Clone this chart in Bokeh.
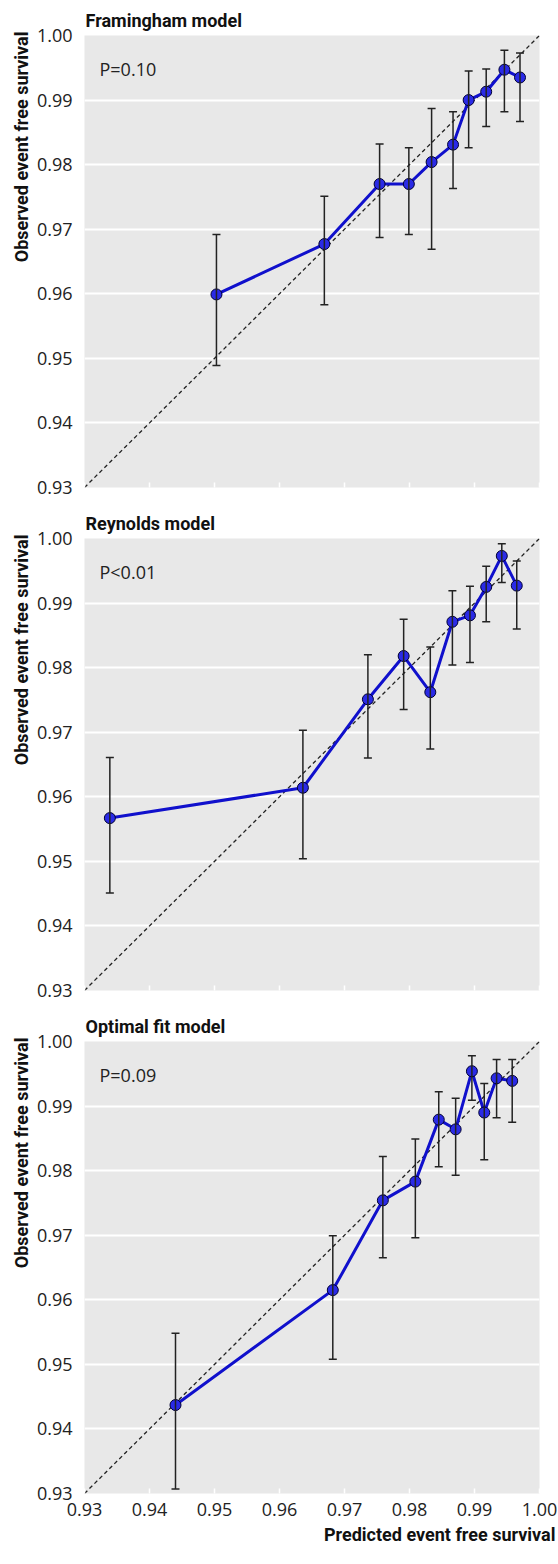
from bokeh.plotting import figure
from bokeh.layouts import column
from bokeh.models import (ColumnDataSource, Whisker, TeeHead, FixedTicker, Label, Title,
                          Range1d, PrintfTickFormatter)
from bokeh.embed import file_html
from bokeh.resources import INLINE

# ---------------- data ----------------
titles = ["Framingham model", "Reynolds model", "Optimal fit model"]
p_texts = ["P=0.10", "P<0.01", "P=0.09"]
ticks = [0.93, 0.94, 0.95, 0.96, 0.97, 0.98, 0.99, 1.00]
x_title = "Predicted event free survival"
y_title = "Observed event free survival"

fram_pred = [0.9503, 0.9669, 0.9754, 0.9799, 0.9834, 0.9867, 0.9891, 0.9918, 0.9946, 0.9970]
fram_obs = [0.9599, 0.9677, 0.9770, 0.9770, 0.9804, 0.9831, 0.9900, 0.9913, 0.9947, 0.9935]
fram_lo = [0.9489, 0.9583, 0.9687, 0.9692, 0.9669, 0.9763, 0.9826, 0.9859, 0.9882, 0.9867]
fram_hi = [0.9692, 0.9751, 0.9832, 0.9826, 0.9887, 0.9882, 0.9945, 0.9948, 0.9977, 0.9973]

reyn_pred = [0.9339, 0.9636, 0.9736, 0.9791, 0.9832, 0.9866, 0.9893, 0.9918, 0.9942, 0.9965]
reyn_obs = [0.9567, 0.9614, 0.9751, 0.9818, 0.9762, 0.9871, 0.9881, 0.9925, 0.9973, 0.9927]
reyn_lo = [0.9451, 0.9504, 0.9660, 0.9735, 0.9674, 0.9804, 0.9808, 0.9871, 0.9932, 0.9860]
reyn_hi = [0.9661, 0.9703, 0.9820, 0.9875, 0.9832, 0.9919, 0.9926, 0.9957, 0.9992, 0.9965]

opt_pred = [0.9440, 0.9682, 0.9759, 0.9809, 0.9845, 0.9871, 0.9896, 0.9915, 0.9934, 0.9958]
opt_obs = [0.9437, 0.9615, 0.9754, 0.9783, 0.9879, 0.9864, 0.9954, 0.9890, 0.9943, 0.9939]
opt_lo = [0.9307, 0.9508, 0.9665, 0.9696, 0.9806, 0.9793, 0.9909, 0.9817, 0.9882, 0.9875]
opt_hi = [0.9548, 0.9699, 0.9822, 0.9849, 0.9922, 0.9912, 0.9978, 0.9935, 0.9972, 0.9972]

series = [
    (fram_pred, fram_obs, fram_lo, fram_hi),
    (reyn_pred, reyn_obs, reyn_lo, reyn_hi),
    (opt_pred, opt_obs, opt_lo, opt_hi),
]

# ---------------- style ----------------
FONT = "Open Sans"
BOLD = "Roboto"
BG = "#e8e8e8"
BLUE = "#1010cc"
FRAME_W, FRAME_H = 455, 452
LEFT, RIGHT, TOP = 84, 19, 35


def make_panel(i, pred, obs, lo, hi, last):
    bottom = 71 if last else 16
    H = TOP + FRAME_H + bottom
    p = figure(width=LEFT + FRAME_W + RIGHT, height=H,
               x_range=Range1d(ticks[0], ticks[-1]), y_range=Range1d(ticks[0], ticks[-1]),
               output_backend="svg", toolbar_location=None,
               min_border_left=LEFT, min_border_right=RIGHT,
               min_border_top=TOP, min_border_bottom=bottom,
               background_fill_color=BG, border_fill_color="white",
               outline_line_color=None)

    # panel title
    p.title.text = titles[i]
    p.title.text_font = BOLD
    p.title.text_font_style = "bold"
    p.title.text_font_size = "18px"
    p.title.text_color = "#111111"
    p.title.align = "left"
    p.title.offset = 1
    p.title.standoff = 10

    # grid
    p.xgrid.grid_line_color = None
    p.ygrid.ticker = FixedTicker(ticks=ticks)
    p.ygrid.grid_line_color = "white"
    p.ygrid.grid_line_width = 2

    # y axis
    ya = p.yaxis[0]
    ya.ticker = FixedTicker(ticks=ticks)
    ya.formatter = PrintfTickFormatter(format="%.2f")
    ya.axis_line_color = None
    ya.major_tick_line_color = None
    ya.minor_tick_line_color = None
    ya.major_label_standoff = 6
    ya.major_label_text_font = FONT
    ya.major_label_text_font_size = "18px"
    ya.major_label_text_color = "#222222"

    # y title (left, aligned to top end)
    p.add_layout(Title(text=y_title, align="right", offset=-4, standoff=4,
                       text_font=BOLD, text_font_style="bold", text_font_size="18px",
                       text_color="#111111"), "left")

    # x axis
    xa = p.xaxis[0]
    xa.ticker = FixedTicker(ticks=ticks)
    xa.formatter = PrintfTickFormatter(format="%.2f")
    xa.axis_line_color = None
    xa.minor_tick_line_color = None
    xa.major_tick_in = 5
    xa.major_tick_out = 0
    xa.major_tick_line_color = "white"
    xa.major_tick_line_width = 1.5
    if last:
        xa.major_label_standoff = 9
        xa.major_label_text_font = FONT
        xa.major_label_text_font_size = "18px"
        xa.major_label_text_color = "#222222"
        p.add_layout(Title(text=x_title, align="right", offset=-16, standoff=6,
                           text_font=BOLD, text_font_style="bold", text_font_size="18px",
                           text_color="#111111"), "below")
    else:
        xa.major_label_text_font_size = "1px"
        xa.major_label_text_color = None
        xa.major_label_standoff = 0

    # identity line
    p.line(x=[ticks[0], ticks[-1]], y=[ticks[0], ticks[-1]], line_color="#222222",
           line_width=1.3, line_dash="4 3")

    src = ColumnDataSource(dict(x=pred, y=obs, lo=lo, hi=hi))
    w = Whisker(source=src, base="x", lower="lo", upper="hi", dimension="height",
                line_color="#222222", line_width=1.5,
                upper_head=TeeHead(size=8, line_color="#222222", line_width=1.5),
                lower_head=TeeHead(size=8, line_color="#222222", line_width=1.5))
    w.level = "glyph"
    p.add_layout(w)

    p.line(x="x", y="y", source=src, line_color=BLUE, line_width=3)
    p.scatter(x="x", y="y", source=src, size=11, marker="circle",
              fill_color="#2a2ae6", line_color="#000033", line_width=1)

    p.add_layout(Label(x=15, y=FRAME_H - 33, x_units="screen", y_units="screen",
                       text=p_texts[i], text_font=FONT, text_font_size="18px",
                       text_baseline="middle", text_align="left", text_color="#222222"))
    return p


panels = [make_panel(i, *series[i], last=(i == 2)) for i in range(3)]
layout = column(*panels, spacing=0)

open("out.html", "w").write(file_html(layout, INLINE))
